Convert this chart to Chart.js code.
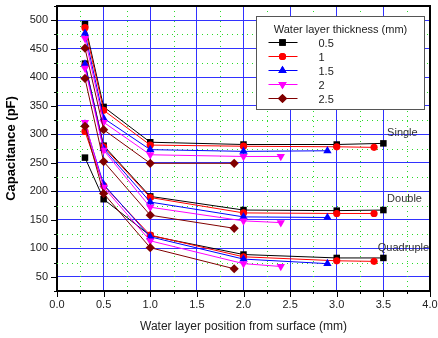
<!DOCTYPE html>
<html><head><meta charset="utf-8">
<script src="https://cdn.jsdelivr.net/npm/chart.js@4/dist/chart.umd.min.js"></script>
<style>html,body{margin:0;padding:0;background:#fff}#wrap{width:438px;height:338px;position:relative}</style>
</head><body><div id="wrap"><canvas id="c" width="438" height="338"></canvas></div>
<script>
// ---- data ----
const thicknessLabels = ['0.5', '1', '1.5', '2', '2.5'];
const groupLabels = ['Single', 'Double', 'Quadruple'];

const positions05 = [0.3, 0.5, 1.0, 2.0, 3.0, 3.5];
const positions1  = [0.3, 0.5, 1.0, 2.0, 3.0, 3.4];
const positions15 = [0.3, 0.5, 1.0, 2.0, 2.9];
const positions2  = [0.3, 0.5, 1.0, 2.0, 2.4];
const positions25 = [0.3, 0.5, 1.0, 1.9];

const single05 = [493, 348, 286, 282, 282, 284];
const single1  = [487, 342, 281, 279, 278, 277];
const single15 = [477, 328, 273, 270, 271];
const single2  = [468, 321, 264, 261, 261];
const single25 = [451, 308, 249, 249];

const double05 = [424, 280, 191, 167, 166, 167];
const double1  = [421, 278, 189, 162, 161, 161];
const double15 = [423, 275, 181, 155, 154];
const double2  = [416, 272, 172, 148, 145];
const double25 = [398, 252, 158, 135];

const quad05 = [259, 186, 122, 89, 83, 83];
const quad1  = [305, 210, 123, 85, 78, 77];
const quad15 = [318, 212, 120, 81, 73];
const quad2  = [321, 207, 113, 73, 68];
const quad25 = [314, 196, 101, 64];

const xMajorTicks = [0, 0.5, 1.0, 1.5, 2.0, 2.5, 3.0, 3.5, 4.0];
const xMinorTicks = [0.25, 0.75, 1.25, 1.75, 2.25, 2.75, 3.25, 3.75];
const yMajorTicks = [50, 100, 150, 200, 250, 300, 350, 400, 450, 500];
const yMinorTicks = [25, 75, 125, 175, 225, 275, 325, 375, 425, 475, 525];

// ---- build ----
const positions = [positions05, positions1, positions15, positions2, positions25];
const groups = [
  [single05, single1, single15, single2, single25],
  [double05, double1, double15, double2, double25],
  [quad05, quad1, quad15, quad2, quad25]
];
const styles = [
  {color: '#000000', pointStyle: 'rect', radius: 4.6, rotation: 0},
  {color: '#ff0000', pointStyle: 'circle', radius: 3.6, rotation: 0},
  {color: '#0000ff', pointStyle: 'triangle', radius: 4.8, rotation: 0},
  {color: '#ff00ff', pointStyle: 'triangle', radius: 4.8, rotation: 180},
  {color: '#800000', pointStyle: 'rectRot', radius: 4.6, rotation: 0}
];

const datasets = [];
groups.forEach((grp, g) => {
  grp.forEach((vals, i) => {
    const s = styles[i];
    datasets.push({
      label: thicknessLabels[i] + ' ' + groupLabels[g],
      data: positions[i].map((x, k) => ({x: x, y: vals[k]})),
      borderColor: s.color,
      backgroundColor: s.color,
      borderWidth: 1,
      pointStyle: s.pointStyle,
      pointRadius: s.radius,
      pointRotation: s.rotation,
      pointBorderWidth: 0,
      showLine: true,
      order: 10 - i
    });
  });
});

const FONT = '"Liberation Sans", Arial, sans-serif';

const decor = {
  id: 'decor',
  beforeDatasetsDraw(chart) {
    const {ctx, chartArea: a, scales: {x, y}} = chart;
    ctx.save();
    ctx.strokeStyle = 'rgb(40,220,40)';
    ctx.lineWidth = 1;
    ctx.setLineDash([1, 4]);
    xMinorTicks.forEach(v => {
      const px = Math.round(x.getPixelForValue(v)) + 0.5;
      ctx.beginPath(); ctx.moveTo(px, a.top); ctx.lineTo(px, a.bottom); ctx.stroke();
    });
    yMinorTicks.forEach(v => {
      const py = Math.round(y.getPixelForValue(v)) + 0.5;
      if (py <= a.top + 1 || py >= a.bottom - 1) return;
      ctx.beginPath(); ctx.moveTo(a.left, py); ctx.lineTo(a.right, py); ctx.stroke();
    });
    ctx.restore();
  },
  afterDraw(chart) {
    const {ctx, chartArea: a, scales: {x, y}} = chart;
    ctx.save();
    // frame
    ctx.strokeStyle = '#000';
    ctx.lineWidth = 2;
    ctx.beginPath();
    ctx.moveTo(a.left, a.top); ctx.lineTo(a.right, a.top); ctx.lineTo(a.right, a.bottom);
    ctx.stroke();
    // ticks
    ctx.lineWidth = 1;
    xMajorTicks.forEach(v => {
      const px = Math.round(x.getPixelForValue(v)) + 0.5;
      ctx.beginPath(); ctx.moveTo(px, a.bottom); ctx.lineTo(px, a.bottom + 6); ctx.stroke();
    });
    xMinorTicks.forEach(v => {
      const px = Math.round(x.getPixelForValue(v)) + 0.5;
      ctx.beginPath(); ctx.moveTo(px, a.bottom); ctx.lineTo(px, a.bottom + 3); ctx.stroke();
    });
    yMajorTicks.forEach(v => {
      const py = Math.round(y.getPixelForValue(v)) + 0.5;
      ctx.beginPath(); ctx.moveTo(a.left - 6, py); ctx.lineTo(a.left, py); ctx.stroke();
    });
    yMinorTicks.forEach(v => {
      const py = Math.round(y.getPixelForValue(v)) + 0.5;
      ctx.beginPath(); ctx.moveTo(a.left - 3, py); ctx.lineTo(a.left, py); ctx.stroke();
    });
    // group labels
    ctx.fillStyle = '#333';
    ctx.font = '11px ' + FONT;
    ctx.textBaseline = 'middle';
    ctx.textAlign = 'left';
    const anchors = [[3.54, 302], [3.54, 187], [3.44, 101]];
    groupLabels.forEach((t, g) => {
      ctx.fillText(t, x.getPixelForValue(anchors[g][0]), y.getPixelForValue(anchors[g][1]));
    });
    // legend box
    const bx = 256.5, by = 16.5, bw = 168, bh = 93;
    ctx.fillStyle = '#fff';
    ctx.fillRect(bx, by, bw, bh);
    ctx.strokeStyle = '#555';
    ctx.lineWidth = 1;
    ctx.strokeRect(bx, by, bw, bh);
    ctx.fillStyle = '#222';
    ctx.textAlign = 'center';
    ctx.fillText('Water layer thickness (mm)', bx + bw / 2, by + 13);
    ctx.textAlign = 'left';
    thicknessLabels.forEach((t, i) => {
      const s = styles[i];
      const ly = by + 26 + i * 14;
      ctx.strokeStyle = s.color;
      ctx.lineWidth = 1;
      ctx.beginPath(); ctx.moveTo(bx + 12, ly); ctx.lineTo(bx + 41, ly); ctx.stroke();
      ctx.fillStyle = s.color;
      Chart.helpers.drawPoint(ctx, {pointStyle: s.pointStyle, radius: s.radius, rotation: s.rotation, borderWidth: 0}, bx + 26, ly);
      ctx.fill();
      ctx.fillStyle = '#222';
      ctx.fillText(t, bx + 62, ly + 1);
    });
    ctx.restore();
  }
};

new Chart(document.getElementById('c'), {
  type: 'scatter',
  data: {datasets},
  plugins: [decor],
  options: {
    responsive: false,
    animation: false,
    devicePixelRatio: 1,
    layout: {padding: {left: 0, right: 8, top: 6, bottom: 0}},
    plugins: {legend: {display: false}, tooltip: {enabled: false}},
    scales: {
      x: {
        type: 'linear', min: 0, max: 4,
        afterBuildTicks: s => { s.ticks = xMajorTicks.map(v => ({value: v})); },
        afterFit: s => { s.height = 47; s.paddingLeft = 0; s.paddingRight = 0; },
        ticks: {callback: v => Number(v).toFixed(1), color: '#222', font: {family: FONT, size: 11}, padding: 7, maxRotation: 0, autoSkip: false},
        grid: {color: ctx => (ctx.tick && ctx.tick.value === 0) ? 'rgba(0,0,0,0)' : 'rgb(50,50,255)', lineWidth: 1, drawTicks: false},
        border: {color: '#000', width: 2},
        title: {display: true, text: 'Water layer position from surface (mm)', color: '#222', font: {family: FONT, size: 12}, padding: {top: 4, bottom: 4}}
      },
      y: {
        type: 'linear', min: 25, max: 525,
        afterBuildTicks: s => { s.ticks = yMajorTicks.map(v => ({value: v})); },
        afterFit: s => { s.width = 57; s.paddingTop = 0; s.paddingBottom = 0; },
        ticks: {callback: v => String(v), color: '#222', font: {family: FONT, size: 11}, padding: 9, autoSkip: false},
        grid: {color: 'rgb(50,50,255)', lineWidth: 1, drawTicks: false},
        border: {color: '#000', width: 2},
        title: {display: true, text: 'Capacitance (pF)', color: '#000', font: {family: FONT, size: 13, weight: 'bold'}, padding: {top: 4, bottom: 4}}
      }
    }
  }
});
</script>
</body></html>
